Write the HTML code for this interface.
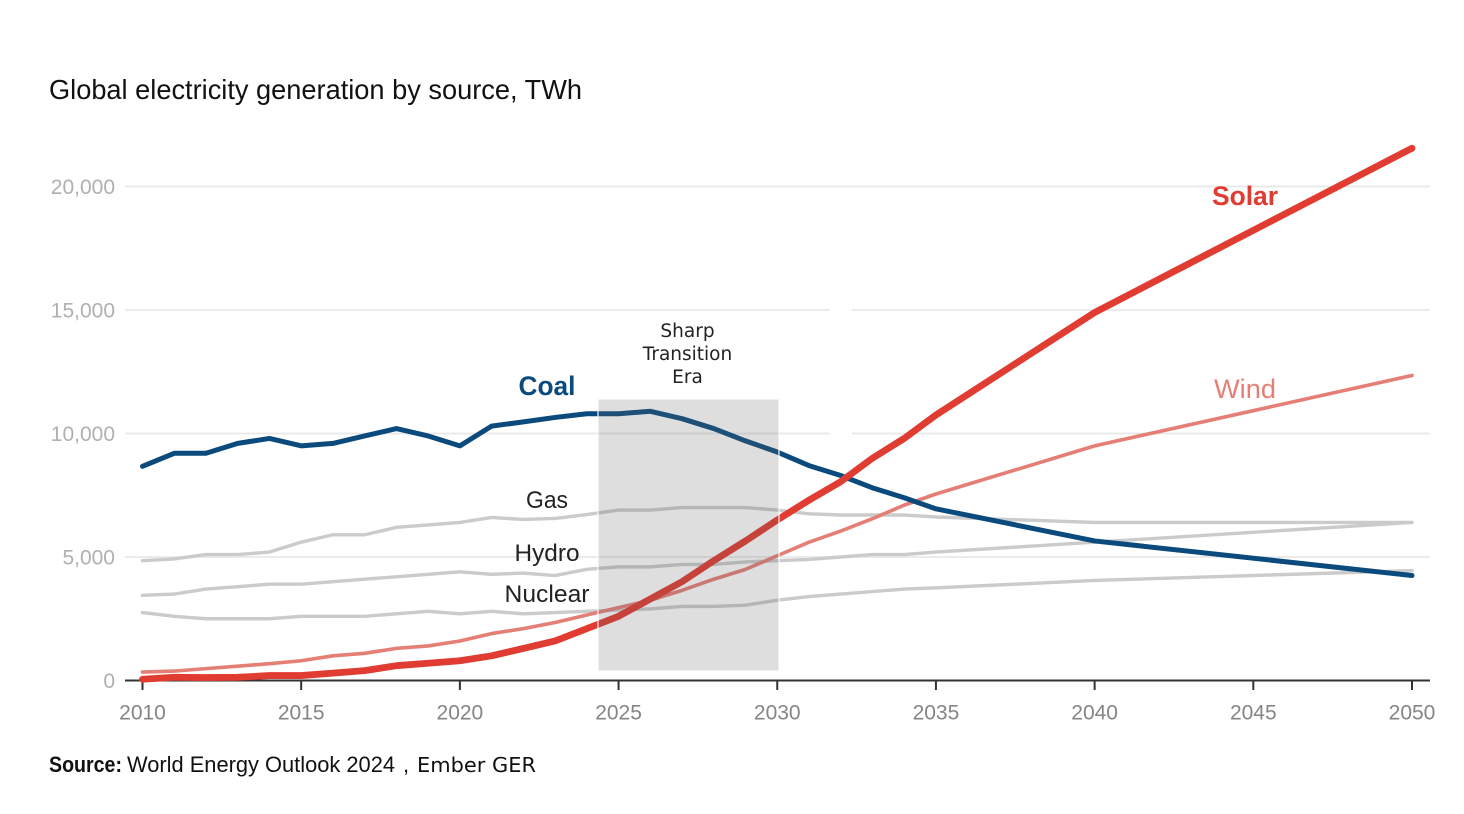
<!DOCTYPE html>
<html lang="en">
<head>
<meta charset="utf-8">
<title>Global electricity generation by source, TWh</title>
<style>
html,body{margin:0;padding:0;background:#fff;width:1464px;height:814px;overflow:hidden}
svg{display:block;font-family:"Liberation Sans",sans-serif}
</style>
</head>
<body>
<svg id="chart" width="1464" height="814" viewBox="0 0 1464 814" xmlns="http://www.w3.org/2000/svg">
  <rect width="1464" height="814" fill="#fff"/>
  <text x="49" y="99" font-size="28" fill="#111" textLength="533" lengthAdjust="spacingAndGlyphs">Global electricity generation by source, TWh</text>
  <g id="grid"></g>
  <rect x="830" y="300" width="22" height="140" fill="#fff"/>
  <g id="y-axis"></g>
  <g id="x-axis"></g>
  <g id="series"></g>
  <rect x="598" y="399" width="181" height="272" fill="#dcdcdc" style="mix-blend-mode:multiply"/>
  <rect x="598" y="399" width="181" height="272" fill="#fff" fill-opacity="0.08" stroke="#fff" stroke-opacity="0.75" stroke-width="1.5"/>
  <g font-family="'DejaVu Sans',sans-serif" font-size="18.5" fill="#222" text-anchor="middle">
    <text x="687.5" y="337">Sharp</text>
    <text x="687.5" y="360">Transition</text>
    <text x="687.5" y="383">Era</text>
  </g>
  <text x="547" y="395" font-size="27" font-weight="700" fill="#0b4a7d" text-anchor="middle" textLength="57" lengthAdjust="spacingAndGlyphs">Coal</text>
  <text x="1245" y="205" font-size="27" font-weight="700" fill="#e03c31" text-anchor="middle" textLength="66" lengthAdjust="spacingAndGlyphs">Solar</text>
  <text x="1245" y="398" font-size="27" fill="#e57f76" text-anchor="middle" textLength="62" lengthAdjust="spacingAndGlyphs">Wind</text>
  <text x="547" y="508" font-size="24" fill="#222" text-anchor="middle" textLength="42" lengthAdjust="spacingAndGlyphs">Gas</text>
  <text x="547" y="561" font-size="24" fill="#222" text-anchor="middle" textLength="65" lengthAdjust="spacingAndGlyphs">Hydro</text>
  <text x="547" y="602" font-size="24" fill="#222" text-anchor="middle" textLength="85" lengthAdjust="spacingAndGlyphs">Nuclear</text>
  <g font-size="22" fill="#111">
    <text x="49" y="772" font-weight="700" textLength="73" lengthAdjust="spacingAndGlyphs">Source:</text>
    <text x="127" y="772" textLength="268" lengthAdjust="spacingAndGlyphs">World Energy Outlook 2024</text>
    <text x="403" y="772">,</text>
    <text x="417" y="772" font-family="'DejaVu Sans',sans-serif" font-size="20" textLength="119" lengthAdjust="spacingAndGlyphs">Ember GER</text>
  </g>
</svg>
<script>
const years = [2010,2011,2012,2013,2014,2015,2016,2017,2018,2019,2020,2021,2022,2023,2024,2025,2026,2027,2028,2029,2030,2031,2032,2033,2034,2035,2040,2050];
const coal = [8670,9200,9200,9600,9800,9500,9600,9900,10200,9900,9500,10300,10470,10650,10800,10800,10900,10600,10200,9700,9250,8700,8300,7800,7400,6950,5650,4250];
const solar = [50,130,120,130,200,200,300,400,600,700,800,1000,1300,1600,2100,2600,3300,4000,4850,5650,6500,7300,8050,9000,9800,10750,14900,21550];
const wind = [340,380,480,580,680,800,1000,1100,1300,1400,1600,1900,2100,2350,2650,2950,3250,3650,4100,4500,5050,5600,6050,6550,7100,7550,9500,12350];
const gas = [4850,4920,5100,5100,5200,5600,5900,5900,6200,6300,6400,6600,6520,6560,6720,6900,6900,7000,7000,7000,6900,6750,6700,6700,6700,6620,6400,6400];
const hydro = [3450,3500,3700,3800,3900,3900,4000,4100,4200,4300,4400,4300,4350,4250,4500,4600,4600,4700,4700,4800,4850,4900,5000,5100,5100,5200,5600,6400];
const nuclear = [2750,2600,2500,2500,2500,2600,2600,2600,2700,2800,2700,2800,2700,2750,2800,2850,2900,3000,3000,3050,3250,3400,3500,3600,3700,3750,4050,4450];
const yTicks = [0,5000,10000,15000,20000];
const xTicks = [2010,2015,2020,2025,2030,2035,2040,2045,2050];

const NS = 'http://www.w3.org/2000/svg';
function xScale(year){ return 142.5 + (year - 2010) * (1412 - 142.5) / 40; }
function yScale(value){ return 680.5 - value * (680.5 - 186.5) / 20000; }
function make(tag, parent, attrs, text){
  const el = document.createElementNS(NS, tag);
  for (const k in attrs) el.setAttribute(k, attrs[k]);
  if (text !== undefined) el.textContent = text;
  parent.appendChild(el);
  return el;
}

const gridG = document.getElementById('grid');
const yG = document.getElementById('y-axis');
const xG = document.getElementById('x-axis');
const seriesG = document.getElementById('series');

yTicks.forEach(function(v){
  if (v > 0) {
    const g = make('line', gridG, {x1:125, x2:1430, y1:yScale(v), y2:yScale(v), stroke:'#e8e8e8', 'stroke-width':1.7});
    
    
  }
  const t = make('text', yG, {x:115, y:yScale(v) + 7.5, 'font-size':21, fill:'#b0b0b0', 'text-anchor':'end'}, v.toLocaleString('en-US'));
  
  
});

const axisLine = make('line', xG, {x1:125, x2:1430, y1:680.5, y2:680.5, stroke:'#333', 'stroke-width':2});


xTicks.forEach(function(y){
  const m = make('line', xG, {x1:xScale(y), x2:xScale(y), y1:680.5, y2:690, stroke:'#333', 'stroke-width':2});
  
  
  const t = make('text', xG, {x:xScale(y), y:719.5, 'font-size':21, fill:'#858585', 'text-anchor':'middle'}, String(y));
  
  
});

function drawLine(values, name, color, width){
  const d = values.map(function(v, i){
    return (i ? 'L' : 'M') + xScale(years[i]).toFixed(2) + ' ' + yScale(v).toFixed(2);
  }).join(' ');
  const p = make('path', seriesG, {d:d, fill:'none', stroke:color, 'stroke-width':width, 'stroke-linecap':'round', 'stroke-linejoin':'round'});
  
  
}
drawLine(nuclear, 'nuclear-line', '#cbcbcb', 3.4);
drawLine(hydro, 'hydro-line', '#cbcbcb', 3.4);
drawLine(gas, 'gas-line', '#cbcbcb', 3.4);
drawLine(wind, 'wind-line', '#e57f76', 3.6);
drawLine(coal, 'coal-line', '#0b4a7d', 5);
drawLine(solar, 'solar-line', '#e03c31', 6.8);
</script>
</body>
</html>
